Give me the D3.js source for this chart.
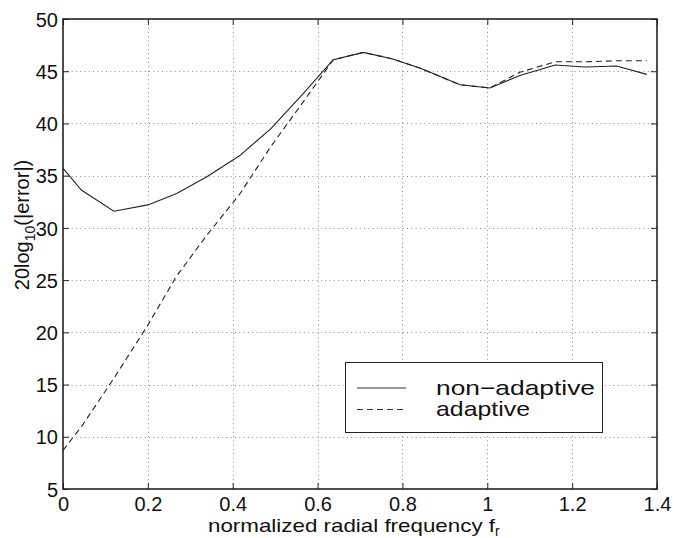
<!DOCTYPE html>
<html lang="en">
<head>
<meta charset="UTF-8">
<title>Error vs radial frequency</title>
<style>
  body { margin: 0; background: #fff; }
  text { font-family: "Liberation Sans", Arial, sans-serif; fill: #111; }
</style>
</head>
<body>
<svg id="chart" width="674" height="538"></svg>
<script src="https://cdn.jsdelivr.net/npm/d3@7"></script>
<script>
// data
var freq = [0, 0.044, 0.12, 0.2, 0.268, 0.339, 0.416, 0.49, 0.565, 0.637, 0.708, 0.775, 0.841, 0.936, 1.006, 1.077, 1.16, 1.23, 1.305, 1.376];
var nonAdaptive = [35.7, 33.6, 31.6, 32.2, 33.3, 34.9, 36.9, 39.5, 42.8, 46.1, 46.8, 46.2, 45.3, 43.7, 43.4, 44.6, 45.6, 45.4, 45.5, 44.7];
var adaptive = [8.7, 11.0, 15.6, 20.7, 25.4, 29.3, 33.2, 37.8, 42.0, 46.1, 46.8, 46.2, 45.3, 43.7, 43.4, 44.9, 45.9, 45.9, 46.0, 46.0];
var xTicks = [0, 0.2, 0.4, 0.6, 0.8, 1, 1.2, 1.4];
var yTicks = [5, 10, 15, 20, 25, 30, 35, 40, 45, 50];

var svg = d3.select("#chart");
// note: "top" is taken by window.top, so use other names
var mLeft = 63, mRight = 657, mTop = 19, mBottom = 489;

var x = d3.scaleLinear().domain([0, 1.4]).range([mLeft, mRight]);
var y = d3.scaleLinear().domain([5, 50]).range([mBottom, mTop]);

// dotted grid
var grid = svg.append("g").attr("stroke", "#888").attr("stroke-width", 1).attr("stroke-dasharray", "1,3.3");
grid.selectAll(".gx").data(xTicks.slice(1, -1)).enter().append("line")
    .attr("x1", d => Math.round(x(d)) + 0.5).attr("x2", d => Math.round(x(d)) + 0.5)
    .attr("y1", mTop).attr("y2", mBottom);
grid.selectAll(".gy").data(yTicks.slice(1, -1)).enter().append("line")
    .attr("y1", d => Math.round(y(d)) + 0.5).attr("y2", d => Math.round(y(d)) + 0.5)
    .attr("x1", mLeft).attr("x2", mRight);

// axes, ticks pointing inward like matlab
var tl = 6;
var axB = svg.append("g").attr("transform", "translate(0," + mBottom + ")")
    .call(d3.axisBottom(x).tickValues(xTicks).tickSizeInner(-tl).tickSizeOuter(0).tickPadding(8).tickFormat(d3.format("~g")));
var axT = svg.append("g").attr("transform", "translate(0," + mTop + ")")
    .call(d3.axisTop(x).tickValues(xTicks).tickSizeInner(-tl).tickSizeOuter(0).tickFormat(""));
var axL = svg.append("g").attr("transform", "translate(" + mLeft + ",0)")
    .call(d3.axisLeft(y).tickValues(yTicks).tickSizeInner(-tl).tickSizeOuter(0).tickPadding(5));
var axR = svg.append("g").attr("transform", "translate(" + mRight + ",0)")
    .call(d3.axisRight(y).tickValues(yTicks).tickSizeInner(-tl).tickSizeOuter(0).tickFormat(""));

[axB, axT, axL, axR].forEach(function(a) {
    a.select(".domain").remove();
    a.selectAll("line").attr("stroke", "#222").attr("stroke-width", 1);
    a.selectAll("text").attr("font-family", "Liberation Sans, Arial, sans-serif")
        .attr("font-size", 20).attr("fill", "#111");
});
axB.selectAll("text").attr("dy", "0.71em");
axL.selectAll("text").attr("dy", "0.36em");

// line series
var line = d3.line().x((d, i) => x(freq[i])).y(d => y(d));
svg.append("path").datum(adaptive).attr("d", line)
    .attr("fill", "none").attr("stroke", "#222").attr("stroke-width", 1.1).attr("stroke-dasharray", "6,4");
svg.append("path").datum(nonAdaptive).attr("d", line)
    .attr("fill", "none").attr("stroke", "#222").attr("stroke-width", 1.1);

// box
svg.append("rect").attr("x", mLeft).attr("y", mTop).attr("width", mRight - mLeft).attr("height", mBottom - mTop)
    .attr("fill", "none").attr("stroke", "#222").attr("stroke-width", 1.6);

// axis labels
var xl = svg.append("text").attr("x", 208).attr("y", 532).attr("font-size", 19);
xl.append("tspan").attr("textLength", 287).attr("lengthAdjust", "spacingAndGlyphs").text("normalized radial frequency f");
xl.append("tspan").attr("font-size", 14).attr("dy", 4).text("r");

var yl = svg.append("text").attr("transform", "translate(29,225) rotate(-90)")
    .attr("text-anchor", "middle").attr("font-size", 20);
yl.append("tspan").text("20log");
yl.append("tspan").attr("font-size", 14).attr("dy", 6).text("10");
yl.append("tspan").attr("dy", -6).text("(|error|)");

// legend
var lg = svg.append("g");
lg.append("rect").attr("x", 345.5).attr("y", 362.5).attr("width", 257).attr("height", 70)
    .attr("fill", "#fff").attr("stroke", "#222").attr("stroke-width", 1);
var entries = [{name: "non\u2212adaptive", dash: null, w: 159}, {name: "adaptive", dash: "6,4", w: 94}];
entries.forEach(function(e, i) {
    var yy = 388 + i * 21.5;
    lg.append("line").attr("x1", 357).attr("x2", 406).attr("y1", yy).attr("y2", yy)
        .attr("stroke", "#333").attr("stroke-width", 1).attr("stroke-dasharray", e.dash);
    lg.append("text").attr("x", 436).attr("y", yy + 6.5).attr("font-size", 21)
        .attr("textLength", e.w).attr("lengthAdjust", "spacingAndGlyphs").text(e.name);
});
</script>
</body>
</html>
